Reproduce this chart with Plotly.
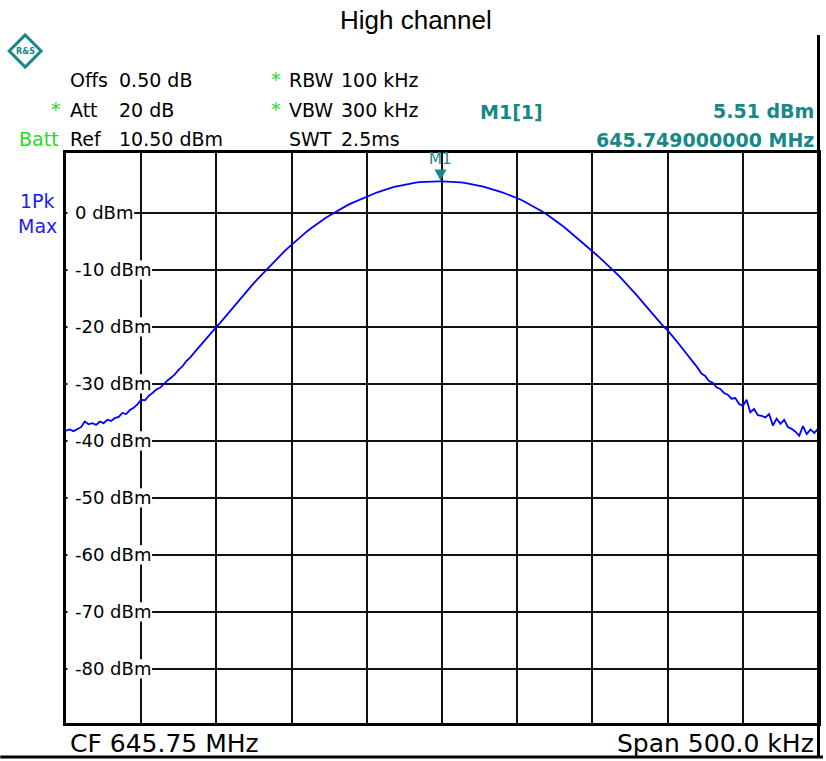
import numpy as np
import plotly.graph_objects as go

# ---------------- data ----------------
title_text = "High channel"
center_mhz = 645.75
span_mhz = 0.5
n_points = 201

level_dbm = [
    -38.2, -38.0, -38.3, -37.9, -37.6, -36.6, -37.1, -36.9, -37.2, -36.6,
    -36.9, -36.3, -36.5, -36.0, -35.8, -35.1, -35.3, -34.6, -34.2, -33.6,
    -32.8, -32.9, -32.1, -31.6, -31.0, -30.7, -30.0, -29.4, -28.9, -28.3,
    -27.5, -26.9, -26.0, -25.4, -24.6, -23.8, -23.0, -22.3, -21.5, -20.8,
    -20.0, -19.3, -18.5, -17.8, -17.1, -16.3, -15.5, -14.7, -13.8, -13.0,
    -12.3, -11.6, -10.9, -10.2, -9.5, -8.8, -8.1, -7.5, -6.8, -6.2,
    -5.6, -5.0, -4.4, -3.8, -3.3, -2.8, -2.3, -1.8, -1.4, -0.9,
    -0.5, -0.1, 0.3, 0.7, 1.0, 1.4, 1.7, 2.0, 2.3, 2.6,
    2.9, 3.15, 3.4, 3.65, 3.9, 4.1, 4.3, 4.5, 4.65, 4.8,
    4.95, 5.1, 5.2, 5.3, 5.38, 5.43, 5.47, 5.49, 5.50, 5.51,
    5.51, 5.50, 5.48, 5.45, 5.40, 5.33, 5.24, 5.14, 5.03, 4.9,
    4.75, 4.6, 4.42, 4.24, 4.05, 3.85, 3.6, 3.35, 3.1, 2.85,
    2.6, 2.3, 1.95, 1.6, 1.25, 0.9, 0.5, 0.1, -0.35, -0.8,
    -1.25, -1.75, -2.25, -2.8, -3.35, -3.9, -4.4, -5.0, -5.6, -6.1,
    -6.7, -7.3, -7.9, -8.5, -9.1, -9.7, -10.4, -11.0, -11.7, -12.4,
    -13.1, -13.9, -14.6, -15.4, -16.2, -16.9, -17.7, -18.5, -19.3, -20.0,
    -20.6, -21.5, -22.2, -23.0, -23.8, -24.6, -25.6, -26.3, -27.2, -28.2,
    -28.6, -29.5, -29.8, -30.6, -30.9, -31.6, -31.9, -32.6, -32.5, -33.5,
    -33.9, -32.8, -35.0, -34.4, -35.5, -35.6, -35.9, -35.3, -37.3, -36.1,
    -37.0, -36.3, -37.6, -37.9, -38.4, -39.1, -37.4, -38.8, -38.0, -38.6,
    -37.9,
]

ytick_vals = [0, -10, -20, -30, -40, -50, -60, -70, -80]
ytick_text = ["0 dBm", "-10 dBm", "-20 dBm", "-30 dBm", "-40 dBm",
              "-50 dBm", "-60 dBm", "-70 dBm", "-80 dBm"]
ref_level = 10.5
y_bottom = -89.5

marker_freq = 645.749
marker_level = 5.51
marker_name = "M1"
marker_readout = ["M1[1]", "5.51 dBm", "645.749000000 MHz"]

header_left = [("Offs", "0.50 dB"), ("Att", "20 dB"), ("Ref", "10.50 dBm")]
header_mid = [("RBW", "100 kHz"), ("VBW", "300 kHz"), ("SWT", "2.5ms")]
footer_left = "CF 645.75 MHz"
footer_right = "Span 500.0 kHz"

# ---------------- style ----------------
W, H = 826, 761
ML, MR, MT, MB = 66, 5, 153, 38
PW, PH = W - ML - MR, H - MT - MB

TEAL = "#178787"
GREEN = "#22dd22"
BLUE = "#1a1aff"
TRACE = "#0000ff"
FONT = "DejaVu Sans"

f_lo = center_mhz - span_mhz / 2
f_hi = center_mhz + span_mhz / 2


def X(px):
    return (px - ML) / PW


def Y(py):
    return (H - MB - py) / PH


def FX(px):
    # pixel -> frequency (for axis-referenced shapes)
    return f_lo + (px - ML) / PW * (f_hi - f_lo)


freq = np.linspace(f_lo, f_hi, n_points)

fig = go.Figure()
fig.add_trace(go.Scatter(x=freq, y=level_dbm, mode="lines",
                         line=dict(color=TRACE, width=1.8),
                         hoverinfo="skip", showlegend=False))

ann = []
shapes = []


def txt(px, py, text, size=19, color="black", anchor="left", family=FONT, bold=False):
    t = f"<b>{text}</b>" if bold else text
    ann.append(dict(x=X(px), y=Y(py), xref="paper", yref="paper", text=t,
                    showarrow=False, xanchor=anchor, yanchor="middle",
                    font=dict(size=size, color=color, family=family)))


# title
txt(417, 20, title_text, size=26, anchor="center", family="Liberation Sans")

# header rows
rows_y = [80, 110, 139]
for (lab, val), yy in zip(header_left, rows_y):
    txt(68, yy, lab)
    txt(117, yy, val)
for (lab, val), yy in zip(header_mid, rows_y):
    txt(288, yy, lab)
    txt(340, yy, val)
txt(56, 109, "*", color=GREEN, anchor="center")
txt(277, 79, "*", color=GREEN, anchor="center")
txt(277, 109, "*", color=GREEN, anchor="center")
txt(17, 139, "Batt", color=GREEN)

# marker readout
txt(480, 112, marker_readout[0], color=TEAL, bold=True)
txt(819, 111, marker_readout[1], color=TEAL, anchor="right", bold=True)
txt(819, 140, marker_readout[2], color=TEAL, anchor="right", bold=True)

# trace info
txt(37, 201, "1Pk", color=BLUE, anchor="center", size=19)
txt(37, 226, "Max", color=BLUE, anchor="center", size=19)

# footer
txt(68, 743, footer_left, size=25)
txt(819, 743, footer_right, size=25, anchor="right")

# y labels inside plot with masks over the grid
cw = {"-": 0.361, " ": 0.318, "d": 0.635, "B": 0.686, "m": 0.974}
for v, t in zip(ytick_vals, ytick_text):
    w = sum(cw.get(c, 0.636) for c in t) * 18
    shapes.append(dict(type="rect", xref="x", yref="y", layer="between",
                       x0=FX(67.5), x1=FX(75 + w + 1), y0=v - 1.7, y1=v + 1.7,
                       fillcolor="white", line=dict(width=0)))
    ann.append(dict(x=X(73), y=v, xref="paper", yref="y", text=t,
                    showarrow=False, xanchor="left", yanchor="middle",
                    font=dict(size=18, color="black", family=FONT)))

# marker
shapes.append(dict(type="path", xref="x", yref="y", xsizemode="pixel", ysizemode="pixel",
                   xanchor=marker_freq, yanchor=marker_level,
                   path="M -6 12 L 6 12 L 0 1 Z", fillcolor=TEAL, line=dict(width=0)))
ann.append(dict(x=marker_freq, y=marker_level, xref="x", yref="y", text=marker_name,
                showarrow=False, yshift=22, xanchor="center", yanchor="middle",
                font=dict(size=15, color=TEAL, family=FONT)))

# frame extras
shapes.append(dict(type="line", xref="paper", yref="paper", x0=X(821.5), x1=X(821.5),
                   y0=Y(35), y1=Y(757), line=dict(color="black", width=3)))
shapes.append(dict(type="line", xref="paper", yref="paper", x0=X(0), x1=X(826),
                   y0=Y(757), y1=Y(757), line=dict(color="black", width=3)))

# logo diamond
cx, cy, r = 25, 51, 16
shapes.append(dict(type="path", xref="paper", yref="paper",
                   path=f"M {X(cx)} {Y(cy - r)} L {X(cx + r)} {Y(cy)} L {X(cx)} {Y(cy + r)} L {X(cx - r)} {Y(cy)} Z",
                   line=dict(color=TEAL, width=3), fillcolor="white"))
txt(25, 51, "R&amp;S", size=8, color=TEAL, anchor="center", bold=True)

fig.update_layout(
    width=W, height=H,
    margin=dict(l=ML, r=MR, t=MT, b=MB),
    paper_bgcolor="white", plot_bgcolor="white",
    showlegend=False,
    annotations=ann, shapes=shapes,
    xaxis=dict(range=[f_lo, f_hi], tick0=f_lo, dtick=0.05,
               showgrid=True, gridcolor="#111111", gridwidth=1.5,
               showticklabels=False, ticks="", zeroline=False,
               showline=True, mirror=True, linecolor="black", linewidth=3),
    yaxis=dict(range=[y_bottom, ref_level], tickmode="array", tickvals=ytick_vals,
               showgrid=True, gridcolor="#111111", gridwidth=1.5,
               showticklabels=False, ticks="", zeroline=False,
               showline=True, mirror=True, linecolor="black", linewidth=3),
)

fig.write_html("out.html", config={"displayModeBar": False},
               post_script="document.body.style.margin='0px';")
